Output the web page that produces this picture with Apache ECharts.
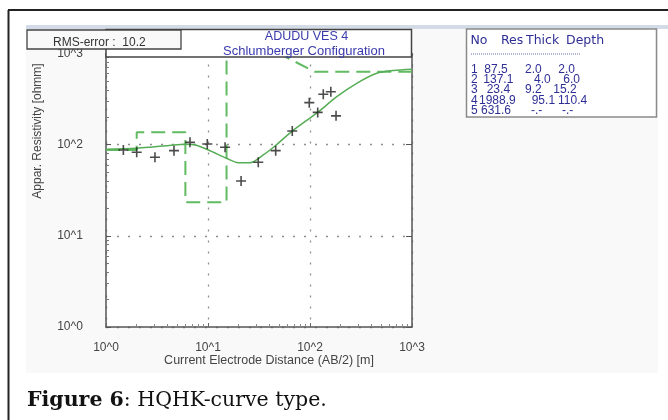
<!DOCTYPE html>
<html><head><meta charset="utf-8">
<script src="https://cdn.jsdelivr.net/npm/echarts@6/dist/echarts.min.js"></script>
<style>html,body{margin:0;padding:0;background:#fff}#c{width:668px;height:420px}</style>
</head><body><div id="c"></div>
<script>
// ---- data ----
const xTickLabels = ['10^0', '10^1', '10^2', '10^3'];
const yTickLabels = ['10^0', '10^1', '10^2', '10^3'];

// measured apparent resistivity (+ markers)
const obsAB2 = [1.48, 2.0, 3.02, 4.64, 6.66, 9.84, 14.7, 21.1, 31.1, 46.1, 67.0, 98.4, 119, 135, 160, 180];
const obsRho = [87.5, 82.6, 72.8, 86, 106, 101.8, 93.6, 40.0, 64.1, 86, 141, 289, 226, 357, 381, 207];

// computed model response (solid green curve)
const fitAB2 = [1.0, 2.0, 2.7, 4.2, 6.0, 7.5, 10.1, 15.2, 19.8, 25.8, 34.8, 45.4, 67, 119, 183, 287, 451, 656, 1000];
const fitRho = [89, 91.4, 93.7, 98, 101, 99.3, 87.5, 70.9, 63.5, 63.5, 77.1, 96.8, 141, 226, 336, 471, 607, 650, 671];

// layer table
const layerNo = [1, 2, 3, 4, 5];
const layerRes = [87.5, 137.1, 23.4, 1988.9, 631.6];
const layerThick = [2.0, 4.0, 9.2, 95.1, null];
const layerDepth = [2.0, 6.0, 15.2, 110.4, null];

// ---- derived ----
const obsData = obsAB2.map((x, i) => [x, obsRho[i]]);
const fitData = fitAB2.map((x, i) => [x, fitRho[i]]);
const modelData = [
  [1, layerRes[0]], [layerDepth[0], layerRes[0]],
  [layerDepth[0], layerRes[1]], [layerDepth[1], layerRes[1]],
  [layerDepth[1], layerRes[2]], [layerDepth[2], layerRes[2]],
  [layerDepth[2], layerRes[3]], [layerDepth[3], layerRes[4]],
  [1000, layerRes[4]]
];
const minorVals = [];
for (let d = 0; d < 3; d++) for (let m = 2; m <= 9; m++) minorVals.push(Math.log10(m) + d);
const majorVals = [0, 1, 2, 3];

const SANS = "'Liberation Sans', Arial, sans-serif";
const WIDE = "'DejaVu Sans', Verdana, sans-serif";
const SERIF = "'DejaVu Serif', serif";
const logLabel = v => xTickLabels[Math.round(Math.log10(v))];
const logLabelY = v => yTickLabels[Math.round(Math.log10(v))];
const fmt = v => (v == null ? '-.-' : v.toFixed(1));

const G = {left: 106, top: 53.5, width: 306, height: 273.5};

// table graphics
const tblColor = '#2f2f96';
const tbl = [];
const hdr = [['No', 470.5], ['Res', 501], ['Thick', 526], ['Depth', 566]];
hdr.forEach(h => tbl.push({type: 'text', x: h[1], y: 40.5, z: 60,
  style: {text: h[0], fill: tblColor, font: '12.5px ' + WIDE, textVerticalAlign: 'middle'}}));
const resX = [484.3, 483.3, 486.7, 479, 481];
const thkX = [525, 534, 525, 531.7, 531];
const depX = [558.3, 563.3, 553.3, 558, 562];
layerNo.forEach((n, i) => {
  const y = 69.5 + i * 10.3;
  const cells = [[String(n), 471], [fmt(layerRes[i]), resX[i]], [fmt(layerThick[i]), thkX[i]], [fmt(layerDepth[i]), depX[i]]];
  cells.forEach(c => tbl.push({type: 'text', x: c[1], y: y, z: 60,
    style: {text: c[0], fill: tblColor, font: '12px ' + SANS, textVerticalAlign: 'middle'}}));
});

const chart = echarts.init(document.getElementById('c'), null, {renderer: 'canvas'});
chart.setOption({
  animation: false,
  backgroundColor: '#fff',
  grid: [
    Object.assign({show: true, backgroundColor: '#fff', borderWidth: 0}, G),
    Object.assign({show: false}, G)
  ],
  xAxis: [
    {type: 'log', logBase: 10, min: 1, max: 1000, gridIndex: 0, position: 'bottom',
     axisLine: {show: true, lineStyle: {color: '#555', width: 1.5}},
     axisTick: {show: true, inside: true, length: 4, lineStyle: {color: '#666'}},
     axisLabel: {formatter: logLabel, margin: 15, fontSize: 12, color: '#444', fontFamily: SANS},
     splitLine: {show: true, lineStyle: {color: '#8f8f8f', type: [2, 9], width: 1.3}}},
    {type: 'value', min: 0, max: 3, gridIndex: 1, position: 'bottom',
     axisLine: {show: false},
     axisTick: {show: true, inside: true, length: 3, customValues: minorVals, lineStyle: {color: '#888'}},
     axisLabel: {show: false}, splitLine: {show: false}}
  ],
  yAxis: [
    {type: 'log', logBase: 10, min: 1, max: 1000, gridIndex: 0, position: 'left',
     axisLine: {show: true, lineStyle: {color: '#555', width: 1.5}},
     axisTick: {show: true, inside: true, length: 5, lineStyle: {color: '#555'}},
     axisLabel: {formatter: logLabelY, margin: 36, align: 'center', fontSize: 12, color: '#444', fontFamily: SANS},
     splitLine: {show: true, lineStyle: {color: '#8f8f8f', type: [2, 9], width: 1.3}}},
    {type: 'value', min: 0, max: 3, gridIndex: 1, position: 'left',
     axisLine: {show: false},
     axisTick: {show: true, inside: true, length: 3, customValues: minorVals, lineStyle: {color: '#777'}},
     axisLabel: {show: false}, splitLine: {show: false}},
    {type: 'value', min: 0, max: 3, gridIndex: 1, position: 'right',
     axisLine: {show: true, lineStyle: {color: '#555', width: 1.5}},
     axisTick: {show: true, inside: true, length: 6, customValues: majorVals, lineStyle: {color: '#555'}},
     axisLabel: {show: false}, splitLine: {show: false}}
  ],
  series: [
    {type: 'line', name: 'model', xAxisIndex: 0, yAxisIndex: 0, data: modelData, symbol: 'none', z: 2,
     lineStyle: {color: '#62bb62', width: 2, type: [14, 7]}, clip: true},
    {type: 'line', name: 'fit', xAxisIndex: 0, yAxisIndex: 0, data: fitData, symbol: 'none', smooth: 0.3, z: 3,
     lineStyle: {color: '#55ad55', width: 1.5}, clip: true},
    {type: 'scatter', name: 'observed', xAxisIndex: 0, yAxisIndex: 0, data: obsData, z: 4,
     symbol: 'path://M4.2,0h1.6v4.2h4.2v1.6h-4.2v4.2h-1.6v-4.2h-4.2v-1.6h4.2z', symbolSize: 10,
     itemStyle: {color: '#1e1e1e'}}
  ],
  graphic: [
    {type: 'rect', z: -10, shape: {x: 26, y: 25, width: 632, height: 348}, style: {fill: '#f9f9f9'}},
    {type: 'rect', z: -9, shape: {x: 26, y: 25, width: 642, height: 4}, style: {fill: '#d3dce6'}},
    {type: 'line', z: 100, shape: {x1: 8, y1: 10, x2: 668, y2: 10}, style: {stroke: '#222', lineWidth: 2}},
    {type: 'line', z: 100, shape: {x1: 8.5, y1: 10, x2: 8.5, y2: 420}, style: {stroke: '#222', lineWidth: 2}},
    {type: 'rect', z: 50, shape: {x: 106, y: 29.5, width: 305.5, height: 27.5}, style: {fill: '#fff', stroke: '#444', lineWidth: 1.5}},
    {type: 'text', z: 52, x: 306.5, y: 36.5, style: {text: 'ADUDU VES 4', fill: '#3a3aad', font: '12.5px ' + SANS, textAlign: 'center', textVerticalAlign: 'middle'}},
    {type: 'text', z: 52, x: 304, y: 51.5, style: {text: 'Schlumberger Configuration', fill: '#3a3aad', font: '13px ' + SANS, textAlign: 'center', textVerticalAlign: 'middle'}},
    {type: 'rect', z: 54, shape: {x: 27, y: 30, width: 154, height: 19}, style: {fill: '#f9f9f9', stroke: '#444', lineWidth: 1.3}},
    {type: 'text', z: 55, x: 53, y: 43, style: {text: 'RMS-error :  10.2', fill: '#333', font: '12px ' + SANS, textVerticalAlign: 'middle'}},
    {type: 'rect', z: 58, shape: {x: 466.5, y: 29, width: 190, height: 88}, style: {fill: '#fff', stroke: '#8a8a8a', lineWidth: 1.5}},
    {type: 'line', z: 60, shape: {x1: 471, y1: 54, x2: 580, y2: 54}, style: {stroke: '#6a6ab0', lineWidth: 1, lineDash: [1, 1]}},
    {type: 'text', z: 20, x: 38, y: 131, rotation: Math.PI / 2, style: {text: 'Appar. Resistivity [ohmm]', fill: '#444', font: '12px ' + SANS, textAlign: 'center', textVerticalAlign: 'middle'}},
    {type: 'text', z: 20, x: 269, y: 361, style: {text: 'Current Electrode Distance (AB/2) [m]', fill: '#444', font: '12.5px ' + SANS, textAlign: 'center', textVerticalAlign: 'middle'}},
    {type: 'text', z: 20, x: 27, y: 401, style: {
      text: '{b|Figure 6}: HQHK-curve type.', fill: '#111', font: '20.5px ' + SERIF, textVerticalAlign: 'middle',
      rich: {b: {fontWeight: 'bold', fontFamily: SERIF, fontSize: 20.5, fill: '#111'}}}}
  ].concat(tbl)
});
</script></body></html>
